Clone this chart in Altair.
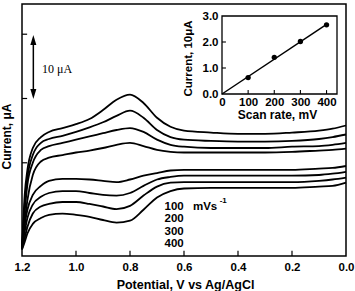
import altair as alt
import pandas as pd

# ---- cyclic voltammograms (potential in V, current in µA) ----
potential = [1.2, 1.19, 1.18, 1.16, 1.13, 1.1, 1.05, 1.0, 0.95, 0.9, 0.85, 0.8,
             0.75, 0.7, 0.65, 0.6, 0.5, 0.4, 0.3, 0.2, 0.1, 0.05, 0.0]

upper_400 = [-13.5, -5.0, -1.1, 2.3, 4.0, 4.8, 5.4, 6.0, 6.8, 8.2, 9.8, 10.6,
             9.3, 7.0, 5.6, 5.0, 4.7, 4.5, 4.5, 4.7, 5.0, 5.3, 5.8]
upper_300 = [-13.4, -6.5, -2.3, 1.2, 3.1, 3.7, 4.2, 4.8, 5.5, 6.3, 7.3, 8.1,
             7.0, 5.1, 4.0, 3.6, 3.4, 3.3, 3.3, 3.4, 3.7, 4.0, 4.4]
upper_200 = [-13.2, -7.6, -3.4, 0.0, 2.0, 2.6, 3.1, 3.6, 4.1, 4.6, 5.1, 5.4,
             4.8, 3.6, 2.8, 2.5, 2.3, 2.3, 2.3, 2.5, 2.6, 2.8, 3.1]
upper_100 = [-13.1, -9.2, -5.8, -1.9, 0.2, 0.8, 1.2, 1.6, 1.9, 2.3, 2.8, 3.1,
             2.6, 2.0, 1.7, 1.6, 1.6, 1.6, 1.6, 1.7, 1.9, 2.0, 2.2]

lower_100 = [-13.1, -9.6, -7.3, -5.0, -3.6, -2.8, -2.5, -2.5, -2.6, -2.8, -3.0, -2.6,
             -2.0, -1.6, -1.2, -1.1, -1.1, -1.1, -1.1, -1.1, -0.9, -0.8, -0.5]
lower_200 = [-13.2, -10.7, -8.6, -6.5, -5.3, -4.7, -4.4, -4.4, -4.7, -5.0, -5.1, -4.7,
             -3.6, -2.6, -2.2, -2.0, -2.0, -2.0, -2.0, -2.0, -1.9, -1.7, -1.4]
lower_300 = [-13.4, -11.7, -10.0, -7.9, -6.8, -6.4, -6.1, -6.1, -6.4, -6.8, -7.2, -6.7,
             -5.1, -3.7, -3.1, -3.0, -3.0, -3.0, -3.0, -3.0, -2.8, -2.6, -2.3]
lower_400 = [-13.5, -12.3, -11.0, -9.5, -8.6, -8.1, -7.9, -8.1, -8.4, -8.9, -9.3, -9.0,
             -7.3, -5.4, -4.4, -4.0, -3.9, -3.9, -3.9, -3.9, -3.7, -3.6, -3.1]

branches = {
    "up400": upper_400, "up300": upper_300, "up200": upper_200, "up100": upper_100,
    "lo100": lower_100, "lo200": lower_200, "lo300": lower_300, "lo400": lower_400,
}

# axis ticks of the main panel
x_tick_values = [1.2, 1.0, 0.8, 0.6, 0.4, 0.2, 0.0]
x_inner_ticks = [1.0, 0.8, 0.6, 0.4, 0.2]
y_inner_ticks = [-10, 0, 10, 20]
x_domain = [0.0, 1.2]
y_domain = [-14.5, 24.7]

# scale bar (10 µA) and scan-rate labels
bar_potential = 1.158
bar_top, bar_bottom = 19.0, 10.8
bar_head_top, bar_head_bottom = 19.1, 10.7
bar_label = "10 μA"
rate_labels = ["100", "200", "300", "400"]
rate_label_current = [-6.8, -8.75, -10.7, -12.6]
rate_label_potential = 0.672

# ---- inset: peak current vs scan rate ----
scan_rate = [100, 200, 300, 400]
peak_current = [0.63, 1.41, 2.02, 2.66]
fit_rate = [0, 400]
fit_current = [0, 2.68]
inset_x_domain = [0, 440]
inset_y_domain = [0.0, 3.0]
inset_x_ticks = [0, 100, 200, 300, 400]
inset_y_ticks = [0.0, 1.0, 2.0, 3.0]

FONT = "Liberation Sans"
W, H = 324, 252

rows = []
for name, vals in branches.items():
    for i, (v, c) in enumerate(zip(potential, vals)):
        rows.append({"V": v, "I": c, "branch": name, "seq": i})
cv = pd.DataFrame(rows)

# every layer carries its own explicit scale; main layers share identical ones
def xs():
    return alt.Scale(domain=x_domain, reverse=True, nice=False, zero=False)

def ys():
    return alt.Scale(domain=y_domain, nice=False, zero=False)

def ix():
    return alt.Scale(domain=inset_x_domain, range=[200, 315], nice=False, zero=False)

def iy():
    return alt.Scale(domain=inset_y_domain, range=[90, 12], nice=False, zero=False)

curves = alt.Chart(cv).mark_line(
    color="black", strokeWidth=1.8, interpolate="monotone"
).encode(
    x=alt.X("V:Q", scale=xs(), axis=alt.Axis(
        orient="bottom", values=x_tick_values, format=".1f", ticks=False,
        domain=False, grid=False, labelFont=FONT, labelFontSize=11.5,
        labelFontWeight="bold", labelPadding=11, labelBaseline="middle",
        labelFlush=False, labelColor="black",
        title="Potential, V vs Ag/AgCl", titleFont=FONT, titleFontSize=12.5,
        titleFontWeight="bold", titleX=163, titleY=28, titleBaseline="middle",
        titleColor="black")),
    y=alt.Y("I:Q", scale=ys(), axis=alt.Axis(
        orient="left", labels=False, ticks=False, domain=False, grid=False,
        title="Current, μA", titleFont=FONT, titleFontSize=12, titleFontWeight="bold",
        titleX=-15.5, titleY=132, titleAngle=270, titleBaseline="middle",
        titleColor="black")),
    detail="branch:N",
    order="seq:Q",
)

xt = pd.DataFrame({"V": x_inner_ticks, "y0": [y_domain[0]] * len(x_inner_ticks),
                   "y1": [y_domain[0] + 0.8] * len(x_inner_ticks)})
x_ticks = alt.Chart(xt).mark_rule(color="black", strokeWidth=1.2).encode(
    x=alt.X("V:Q", scale=xs(), axis=None),
    y=alt.Y("y0:Q", scale=ys(), axis=None), y2="y1")

yt = pd.DataFrame({"I": y_inner_ticks, "x0": [x_domain[1]] * len(y_inner_ticks),
                   "x1": [x_domain[1] - 0.019] * len(y_inner_ticks)})
y_ticks = alt.Chart(yt).mark_rule(color="black", strokeWidth=1.2).encode(
    x=alt.X("x0:Q", scale=xs(), axis=None), x2="x1",
    y=alt.Y("I:Q", scale=ys(), axis=None))

bar_df = pd.DataFrame({"V": [bar_potential], "top": [bar_top], "bottom": [bar_bottom]})
bar = alt.Chart(bar_df).mark_rule(color="black", strokeWidth=1.5).encode(
    x=alt.X("V:Q", scale=xs(), axis=None),
    y=alt.Y("top:Q", scale=ys(), axis=None), y2="bottom")

heads_df = pd.DataFrame({"V": [bar_potential, bar_potential],
                         "I": [bar_head_top, bar_head_bottom], "dir": ["up", "down"]})
heads = alt.Chart(heads_df).mark_point(filled=True, color="black", size=100, opacity=1).encode(
    x=alt.X("V:Q", scale=xs(), axis=None), y=alt.Y("I:Q", scale=ys(), axis=None),
    shape=alt.Shape("dir:N", legend=None, scale=alt.Scale(
        domain=["up", "down"],
        range=["M0,-1L0.6,1L-0.6,1Z", "M0,1L0.6,-1L-0.6,-1Z"])))

bar_text = alt.Chart(pd.DataFrame({"V": [1.126], "I": [14.6], "t": [bar_label]})).mark_text(
    align="left", baseline="middle", font="Liberation Serif", fontSize=12, color="black"
).encode(x=alt.X("V:Q", scale=xs(), axis=None), y=alt.Y("I:Q", scale=ys(), axis=None),
         text="t:N")

rates_df = pd.DataFrame({"V": [rate_label_potential] * 4, "I": rate_label_current,
                         "t": rate_labels})
rates = alt.Chart(rates_df).mark_text(
    align="left", baseline="middle", font=FONT, fontSize=11.5, fontWeight="bold",
    color="black"
).encode(x=alt.X("V:Q", scale=xs(), axis=None), y=alt.Y("I:Q", scale=ys(), axis=None),
         text="t:N")

unit_df = pd.DataFrame({"V": [0.567, 0.468], "I": [rate_label_current[0], -6.0],
                        "t": ["mVs", "-1"], "s": [11.5, 8]})
units = alt.Chart(unit_df).mark_text(
    align="left", baseline="middle", font=FONT, fontWeight="bold", color="black"
).encode(x=alt.X("V:Q", scale=xs(), axis=None), y=alt.Y("I:Q", scale=ys(), axis=None),
         text="t:N", size=alt.Size("s:Q", scale=None, legend=None))

# ---- inset panel ----
frame_df = pd.DataFrame({"x0": [inset_x_domain[0]], "x1": [inset_x_domain[1]],
                         "y0": [inset_y_domain[0]], "y1": [inset_y_domain[1]]})
inset_frame = alt.Chart(frame_df).mark_rect(
    fill="white", stroke="black", strokeWidth=1.3
).encode(
    x=alt.X("x0:Q", scale=ix(), axis=None), x2="x1",
    y=alt.Y("y0:Q", scale=iy(), axis=None), y2="y1")

ixt = pd.DataFrame({"rate": inset_x_ticks[1:], "y0": [0.0] * 4, "y1": [0.15] * 4})
inset_xt = alt.Chart(ixt).mark_rule(color="black", strokeWidth=1.1).encode(
    x=alt.X("rate:Q", scale=ix(), axis=None),
    y=alt.Y("y0:Q", scale=iy(), axis=None), y2="y1")
iyt = pd.DataFrame({"cur": inset_y_ticks[1:3], "x0": [0] * 2, "x1": [15] * 2})
inset_yt = alt.Chart(iyt).mark_rule(color="black", strokeWidth=1.1).encode(
    x=alt.X("x0:Q", scale=ix(), axis=None), x2="x1",
    y=alt.Y("cur:Q", scale=iy(), axis=None))

fit_df = pd.DataFrame({"rate": fit_rate, "cur": fit_current})
fit = alt.Chart(fit_df).mark_line(color="black", strokeWidth=1.5).encode(
    x=alt.X("rate:Q", scale=ix(), axis=alt.Axis(
        orient="bottom", offset=90 - H, values=inset_x_ticks, format="d",
        ticks=False, domain=False, grid=False, labelFont=FONT,
        labelFontSize=11.5, labelFontWeight="bold", labelPadding=8,
        labelBaseline="middle", labelFlush=False, labelColor="black",
        title="Scan rate, mV", titleFont=FONT, titleFontSize=12,
        titleFontWeight="bold", titleX=255, titleY=20, titleBaseline="middle",
        titleColor="black")),
    y=alt.Y("cur:Q", scale=iy(), axis=alt.Axis(
        orient="left", offset=-200, values=inset_y_ticks, format=".1f",
        ticks=False, domain=False, grid=False, labelFont=FONT,
        labelFontSize=11.5, labelFontWeight="bold", labelPadding=4,
        labelBaseline="middle", labelFlush=False, labelColor="black",
        title="Current, 10μA", titleFont=FONT, titleFontSize=11.5,
        titleFontWeight="bold", titleX=-34, titleY=54, titleAngle=270,
        titleBaseline="middle", titleColor="black")),
)

pts_df = pd.DataFrame({"rate": scan_rate, "cur": peak_current})
pts = alt.Chart(pts_df).mark_circle(color="black", size=28, opacity=1).encode(
    x=alt.X("rate:Q", scale=ix(), axis=None), y=alt.Y("cur:Q", scale=iy(), axis=None))

chart = alt.layer(
    curves, x_ticks, y_ticks, bar, heads, bar_text, rates, units,
    inset_frame, inset_xt, inset_yt, fit, pts,
).resolve_scale(
    x="independent", y="independent", shape="independent"
).properties(
    width=W, height=H,
    autosize=alt.AutoSizeParams(type="none"),
    padding={"left": 22, "top": 4, "right": 9, "bottom": 35},
    background="white",
).configure_view(stroke="black", strokeWidth=1.5)

chart.save("out.html", embed_options={"renderer": "svg", "actions": False})
